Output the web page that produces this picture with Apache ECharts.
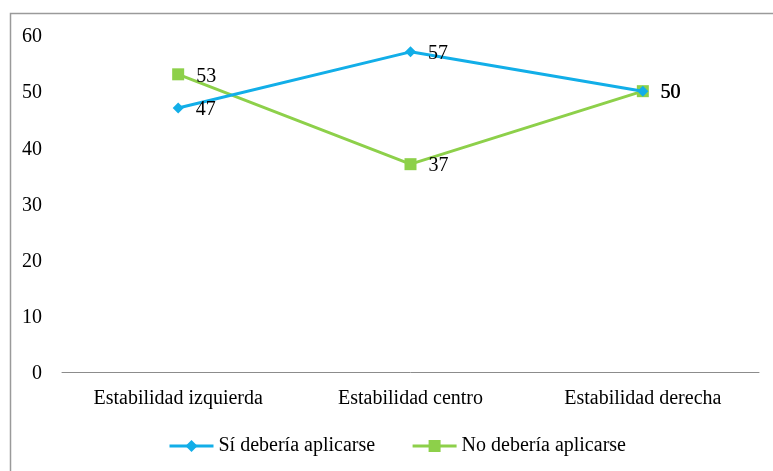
<!DOCTYPE html>
<html>
<head>
<meta charset="utf-8">
<script src="https://cdn.jsdelivr.net/npm/echarts@6/dist/echarts.min.js"></script>
<style>
  html, body { margin: 0; padding: 0; background: #fff; }
  #chart { width: 773px; height: 471px; }
</style>
</head>
<body>
<div id="chart"></div>
<script>
// Categories and series values
const categories = ['Estabilidad izquierda', 'Estabilidad centro', 'Estabilidad derecha'];
const siValues = [47, 57, 50];
const noValues = [53, 37, 50];
const seriesNames = ['Sí debería aplicarse', 'No debería aplicarse'];

const FONT = '"Liberation Serif", "DejaVu Serif", serif';
const FS = 20;
const chart = echarts.init(document.getElementById('chart'), null, { renderer: 'canvas' });

const labelStyle = {
  show: true,
  position: 'right',
  distance: 12,
  offset: [0, 2],
  color: '#000',
  fontFamily: FONT,
  fontSize: FS
};

chart.setOption({
  animation: false,
  backgroundColor: '#fff',
  graphic: [{
    type: 'rect',
    left: 8, top: 11,
    shape: { width: 900, height: 600 },
    style: { fill: 'none', stroke: '#9a9a9a', lineWidth: 1.5 },
    silent: true
  }],
  grid: { left: 62, right: 14, top: 35, bottom: 99 },
  legend: {
    bottom: 10,
    left: 163,
    itemWidth: 44,
    itemHeight: 15,
    itemGap: 36,
    lineStyle: { width: 3 },
    textStyle: { fontFamily: FONT, fontSize: FS, color: '#000' },
    data: seriesNames
  },
  xAxis: {
    type: 'category',
    data: categories,
    boundaryGap: true,
    axisLine: { lineStyle: { color: '#8c8c8c', width: 1 } },
    axisTick: { show: false },
    axisLabel: { color: '#000', fontFamily: FONT, fontSize: FS, margin: 17 }
  },
  yAxis: {
    type: 'value',
    min: 0, max: 60, interval: 10,
    axisLine: { show: false },
    axisTick: { show: false },
    splitLine: { show: false },
    axisLabel: {
      color: '#000', fontFamily: FONT, fontSize: FS, margin: 20,
      formatter: '{v|{value}}',
      rich: { v: { fontFamily: FONT, fontSize: FS, color: '#000', padding: [4, 0, 0, 0] } }
    }
  },
  series: [
    {
      name: seriesNames[0],
      type: 'line',
      data: siValues,
      color: '#12aee8',
      symbol: 'diamond',
      symbolSize: 11,
      lineStyle: { width: 3, color: '#12aee8' },
      itemStyle: { color: '#12aee8' },
      label: labelStyle,
      z: 3
    },
    {
      name: seriesNames[1],
      type: 'line',
      data: noValues,
      color: '#8dd04a',
      symbol: 'rect',
      symbolSize: 12,
      lineStyle: { width: 3, color: '#8dd04a' },
      itemStyle: { color: '#8dd04a' },
      label: labelStyle,
      z: 2
    }
  ]
});
</script>
</body>
</html>
